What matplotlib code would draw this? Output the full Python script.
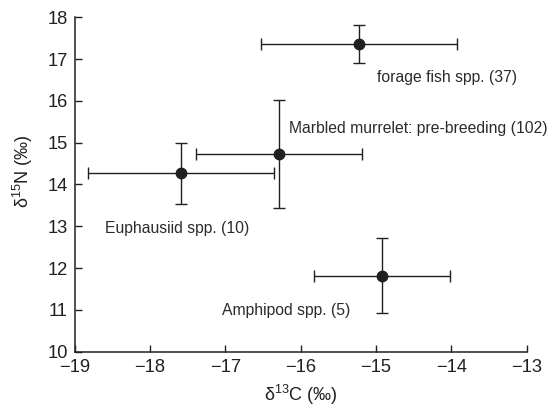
import matplotlib
matplotlib.use("Agg")
import matplotlib.pyplot as plt

plt.rcParams['font.family'] = ['Liberation Sans', 'DejaVu Sans']
plt.rcParams['mathtext.fontset'] = 'custom'
plt.rcParams['mathtext.rm'] = 'Liberation Sans'
plt.rcParams['mathtext.it'] = 'Liberation Sans:italic'

# Data
groups = ["forage fish spp. (37)", "Marbled murrelet: pre-breeding (102)",
          "Euphausiid spp. (10)", "Amphipod spp. (5)"]
d13C = [-15.22, -16.29, -17.59, -14.92]
d13C_err = [1.30, 1.10, 1.23, 0.90]
d15N = [17.36, 14.73, 14.27, 11.82]
d15N_err = [0.46, 1.30, 0.73, 0.90]
label_x = [-14.99, -16.16, -18.60, -17.05]
label_y = [16.56, 15.35, 12.95, 10.98]
xticks = [-19, -18, -17, -16, -15, -14, -13]
yticks = [10, 11, 12, 13, 14, 15, 16, 17, 18]

ink = '#231f20'

fig = plt.figure(figsize=(5.52, 4.08), dpi=100)
ax = fig.add_axes([0.1353, 0.138, 0.8187, 0.8196])

ax.errorbar(d13C, d15N, xerr=d13C_err, yerr=d15N_err, fmt='o', color=ink,
            ecolor=ink, elinewidth=1.0, capsize=4.5, capthick=1.0,
            markersize=7.5, zorder=3)

for t, x, y in zip(groups, label_x, label_y):
    ax.text(x, y, t, ha='left', va='center', fontsize=11.3, color='#2e2a2b')

ax.set_xlim(-19, -13)
ax.set_ylim(10, 18)
ax.set_xticks(xticks)
ax.set_yticks(yticks)
ax.set_xticklabels([f"\u2212{abs(v)}" for v in xticks])
ax.set_yticklabels([str(v) for v in yticks])

for s in ['top', 'right']:
    ax.spines[s].set_visible(False)
for s in ['left', 'bottom']:
    ax.spines[s].set_linewidth(1.1)
    ax.spines[s].set_color(ink)

ax.tick_params(axis='both', direction='in', length=5, width=1.0, colors=ink,
               labelsize=13.2, labelcolor=ink)
ax.tick_params(axis='y', pad=5)
ax.tick_params(axis='x', pad=5)

ax.set_xlabel("\u03b4$^{13}$C (\u2030)", fontsize=13, color=ink)
ax.set_ylabel("\u03b4$^{15}$N (\u2030)", fontsize=13, color=ink)
ax.xaxis.set_label_coords(0.5, -0.094)
ax.yaxis.set_label_coords(-0.088, 0.54)

fig.savefig("out.png", dpi=100)
